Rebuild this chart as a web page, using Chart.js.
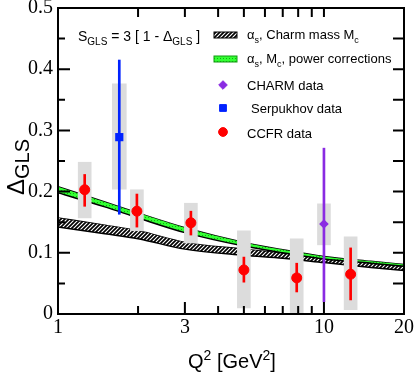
<!DOCTYPE html>
<html>
<head>
<meta charset="utf-8">
<script src="https://cdn.jsdelivr.net/npm/chart.js@4.4.0/dist/chart.umd.min.js"></script>
<style>
  body { margin: 0; background: #fff; }
  #wrap { width: 415px; height: 374px; }
</style>
</head>
<body>
<div id="wrap"><canvas id="c" width="415" height="374"></canvas></div>
<script>
// theory bands: Q^2 grid and upper / lower edges
var bandQ2 = [1, 1.5, 2, 3, 5, 7, 10, 15, 20];
var hatchHi = [0.157, 0.145, 0.136, 0.117, 0.106, 0.099, 0.090, 0.082, 0.077];
var hatchLo = [0.142, 0.131, 0.123, 0.106, 0.096, 0.091, 0.084, 0.076, 0.071];
var greenHi = [0.208, 0.183, 0.165, 0.141, 0.117, 0.105, 0.094, 0.086, 0.081];
var greenLo = [0.198, 0.175, 0.157, 0.133, 0.111, 0.100, 0.090, 0.083, 0.078];

// CCFR data
var ccfrQ2 = [1.26, 1.98, 3.16, 5.0, 7.9, 12.6];
var ccfrVal = [0.203, 0.168, 0.149, 0.072, 0.059, 0.065];
var ccfrStatLo = [0.176, 0.142, 0.129, 0.052, 0.036, 0.023];
var ccfrStatHi = [0.228, 0.196, 0.168, 0.093, 0.083, 0.108];
var ccfrSysLo = [0.157, 0.136, 0.116, 0.010, 0.0, 0.007];
var ccfrSysHi = [0.248, 0.203, 0.181, 0.136, 0.123, 0.126];

// Serpukhov data
var serpQ2 = [1.70];
var serpVal = [0.289];
var serpStatLo = [0.163];
var serpStatHi = [0.415];
var serpSysLo = [0.204];
var serpSysHi = [0.376];

// CHARM data
var charmQ2 = [10];
var charmVal = [0.147];
var charmStatLo = [0.02];
var charmStatHi = [0.271];
var charmSysLo = [0.113];
var charmSysHi = [0.180];

var xTicks = [1, 3, 10, 20];
var xMinor = [2, 4, 5, 6, 7, 8, 9];
var yTicks = [0, 0.1, 0.2, 0.3, 0.4, 0.5];

var RED = '#ff0000', BLUE = '#0022ff', PURPLE = '#8a2be2', GRAY = '#dcdcdc';

function pts(xs, ys) {
    return xs.map(function (x, i) { return { x: x, y: ys[i] }; });
}
function ranges(xs, lo, hi) {
    return xs.map(function (x, i) { return { x: x, y: [lo[i], hi[i]] }; });
}

// fill patterns
function makeHatch() {
    var c = document.createElement('canvas');
    c.width = 4; c.height = 4;
    var g = c.getContext('2d');
    g.fillStyle = '#fff';
    g.fillRect(0, 0, 4, 4);
    g.strokeStyle = '#000';
    g.lineWidth = 1.7;
    g.beginPath();
    g.moveTo(-1, 1); g.lineTo(1, -1);
    g.moveTo(0, 4); g.lineTo(4, 0);
    g.moveTo(3, 5); g.lineTo(5, 3);
    g.stroke();
    return g.createPattern(c, 'repeat');
}
function makeGreen() {
    var c = document.createElement('canvas');
    c.width = 3; c.height = 3;
    var g = c.getContext('2d');
    g.fillStyle = '#33ff33';
    g.fillRect(0, 0, 3, 3);
    g.fillStyle = '#11aa11';
    g.fillRect(1, 1, 1, 1);
    return g.createPattern(c, 'repeat');
}
var hatchFill = makeHatch();
var greenFill = makeGreen();

function rich(ctx, x, y, parts, size, family) {
    parts.forEach(function (p) {
        var sz = p[1] ? Math.round(size * 0.72) : size;
        ctx.font = sz + 'px ' + family;
        var dy = p[1] === 'sub' ? size * 0.32 : (p[1] === 'sup' ? -size * 0.42 : 0);
        ctx.fillText(p[0], x, y + dy);
        x += ctx.measureText(p[0]).width;
    });
    return x;
}

var framePlugin = {
    id: 'frame',
    afterDraw: function (chart) {
        var ctx = chart.ctx, a = chart.chartArea;
        var xs = chart.scales.x, ys = chart.scales.y;
        ctx.save();
        ctx.strokeStyle = '#000';
        ctx.lineWidth = 2;
        ctx.beginPath();
        // bottom / top ticks
        xTicks.forEach(function (v) {
            var px = xs.getPixelForValue(v);
            ctx.moveTo(px, a.bottom); ctx.lineTo(px, a.bottom - 12);
            ctx.moveTo(px, a.top); ctx.lineTo(px, a.top + 9);
        });
        xMinor.forEach(function (v) {
            var px = xs.getPixelForValue(v);
            ctx.moveTo(px, a.bottom); ctx.lineTo(px, a.bottom - 8);
            ctx.moveTo(px, a.top); ctx.lineTo(px, a.top + 9);
        });
        // left / right ticks
        for (var k = 0; k <= 10; k++) {
            var v = k * 0.05;
            var py = ys.getPixelForValue(v);
            var major = k % 2 === 0;
            ctx.moveTo(a.left, py); ctx.lineTo(a.left + (major ? 12 : 7), py);
            ctx.moveTo(a.right, py); ctx.lineTo(a.right - 11, py);
        }
        ctx.stroke();
        ctx.strokeRect(a.left, a.top, a.right - a.left, a.bottom - a.top);

        // annotation
        ctx.fillStyle = '#000';
        ctx.textBaseline = 'alphabetic';
        var sans = "'Liberation Sans', Arial, sans-serif";
        rich(ctx, 78, 41, [['S'], ['GLS', 'sub'], [' = 3 [ 1 - \u0394'], ['GLS', 'sub'], [' ]']], 14, sans);

        // legend
        ctx.fillStyle = hatchFill;
        ctx.fillRect(214, 32, 23, 6);
        ctx.fillStyle = greenFill;
        ctx.fillRect(214, 56, 23, 6);
        ctx.lineWidth = 1;
        ctx.strokeStyle = '#000';
        ctx.strokeRect(214, 32, 23, 6);
        ctx.strokeStyle = '#119911';
        ctx.strokeRect(214, 56, 23, 6);
        ctx.fillStyle = '#000';
        rich(ctx, 247, 39, [['\u03b1'], ['s', 'sub'], [', Charm mass M'], ['c', 'sub']], 13, sans);
        rich(ctx, 247, 63, [['\u03b1'], ['s', 'sub'], [', M'], ['c', 'sub'], [', power corrections']], 13, sans);
        rich(ctx, 247, 90, [['CHARM data']], 13, sans);
        rich(ctx, 251, 113, [['Serpukhov data']], 13, sans);
        rich(ctx, 247, 138, [['CCFR data']], 13, sans);
        var drawPoint = Chart.helpers.drawPoint;
        ctx.fillStyle = PURPLE; ctx.strokeStyle = PURPLE; ctx.lineWidth = 1;
        drawPoint(ctx, { pointStyle: 'rectRot', radius: 4.3, rotation: 0, borderWidth: 1 }, 223, 85);
        ctx.fillStyle = BLUE; ctx.strokeStyle = BLUE;
        drawPoint(ctx, { pointStyle: 'rect', radius: 4.8, rotation: 0, borderWidth: 1 }, 223, 108);
        ctx.fillStyle = RED; ctx.strokeStyle = RED;
        drawPoint(ctx, { pointStyle: 'circle', radius: 4.4, rotation: 0, borderWidth: 1 }, 223, 132);

        // axis titles
        ctx.fillStyle = '#000';
        rich(ctx, 188, 368, [['Q'], ['2', 'sup'], [' [GeV'], ['2', 'sup'], [']']], 20, sans);
        ctx.translate(24, 195);
        ctx.rotate(-Math.PI / 2);
        ctx.font = '24px ' + sans;
        ctx.fillText('\u0394', 0, 0);
        var w = ctx.measureText('\u0394').width;
        ctx.font = '20px ' + sans;
        ctx.fillText('GLS', w, 5);
        ctx.restore();
    }
};

function bar(xs, lo, hi, color, thick, order) {
    return {
        type: 'bar', data: ranges(xs, lo, hi), backgroundColor: color,
        borderWidth: 0, barThickness: thick, grouped: false, order: order
    };
}

new Chart(document.getElementById('c'), {
    type: 'scatter',
    data: {
        datasets: [
            { type: 'line', data: pts(bandQ2, hatchHi), borderColor: '#000', borderWidth: 1.5,
              pointRadius: 0, fill: false, cubicInterpolationMode: 'monotone', order: 9 },
            { type: 'line', data: pts(bandQ2, hatchLo), borderColor: '#000', borderWidth: 1.5,
              pointRadius: 0, fill: '-1', backgroundColor: hatchFill, cubicInterpolationMode: 'monotone', order: 8 },
            { type: 'line', data: pts(bandQ2, greenHi), borderColor: '#000', borderWidth: 1.5,
              pointRadius: 0, fill: false, cubicInterpolationMode: 'monotone', order: 7 },
            { type: 'line', data: pts(bandQ2, greenLo), borderColor: '#000', borderWidth: 1.5,
              pointRadius: 0, fill: '-1', backgroundColor: greenFill, cubicInterpolationMode: 'monotone', order: 6 },
            bar(ccfrQ2, ccfrSysLo, ccfrSysHi, GRAY, 13, 5),
            bar(serpQ2, serpSysLo, serpSysHi, GRAY, 14, 5),
            bar(charmQ2, charmSysLo, charmSysHi, GRAY, 13, 5),
            bar(ccfrQ2, ccfrStatLo, ccfrStatHi, RED, 2, 4),
            bar(serpQ2, serpStatLo, serpStatHi, BLUE, 2, 4),
            bar(charmQ2, charmStatLo, charmStatHi, PURPLE, 2, 4),
            { label: 'CCFR data', data: pts(ccfrQ2, ccfrVal), pointStyle: 'circle', pointRadius: 5,
              backgroundColor: RED, borderColor: RED, borderWidth: 1, order: 1 },
            { label: 'Serpukhov data', data: pts(serpQ2, serpVal), pointStyle: 'rect', pointRadius: 5.8,
              backgroundColor: BLUE, borderColor: BLUE, borderWidth: 0, order: 1 },
            { label: 'CHARM data', data: pts(charmQ2, charmVal), pointStyle: 'rectRot', pointRadius: 4.8,
              backgroundColor: PURPLE, borderColor: PURPLE, borderWidth: 0, order: 1 }
        ]
    },
    options: {
        responsive: false,
        animation: false,
        layout: { padding: { left: 0, top: 8, right: 11, bottom: 0 } },
        plugins: { legend: { display: false }, tooltip: { enabled: false } },
        scales: {
            x: {
                type: 'logarithmic', min: 1, max: 20, offset: false,
                grid: { display: false, drawTicks: false }, border: { display: false },
                afterBuildTicks: function (axis) {
                    axis.ticks = xTicks.map(function (v) { return { value: v }; });
                },
                afterFit: function (s) { s.height = 60; s.paddingLeft = 0; s.paddingRight = 0; },
                ticks: {
                    autoSkip: false, maxRotation: 0, padding: 2, color: '#000',
                    font: { family: "'Liberation Serif', 'Times New Roman', serif", size: 20 },
                    callback: function (v) { return String(v); }
                }
            },
            y: {
                min: 0, max: 0.5,
                grid: { display: false, drawTicks: false }, border: { display: false },
                afterBuildTicks: function (axis) {
                    axis.ticks = yTicks.map(function (v) { return { value: v }; });
                },
                afterFit: function (s) { s.width = 58; s.paddingTop = 0; s.paddingBottom = 0; },
                ticks: {
                    padding: 5, color: '#000',
                    font: { family: "'Liberation Serif', 'Times New Roman', serif", size: 20 },
                    callback: function (v) { return v === 0 ? '0' : v.toFixed(1); }
                }
            }
        }
    },
    plugins: [framePlugin]
});
</script>
</body>
</html>
